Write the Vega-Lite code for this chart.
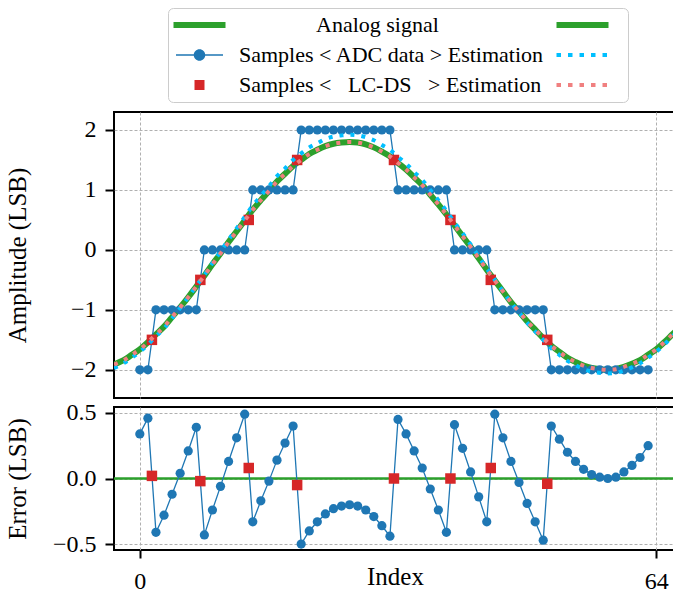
{
  "$schema": "https://vega.github.io/schema/vega-lite/v6.json",
  "padding": {"left": 3, "top": 6, "right": 0, "bottom": 0},
  "bounds": "flush",
  "spacing": 9,
  "datasets": {
    "lines": [
      {"series":"Analog signal","x":-3.2,"y":-1.91},{"series":"Analog signal","x":-3,"y":-1.90},{"series":"Analog signal","x":-2,"y":-1.84},{"series":"Analog signal","x":-1,"y":-1.75},
      {"series":"Analog signal","x":0,"y":-1.66},{"series":"Analog signal","x":1,"y":-1.54},{"series":"Analog signal","x":2,"y":-1.41},{"series":"Analog signal","x":3,"y":-1.28},
      {"series":"Analog signal","x":4,"y":-1.12},{"series":"Analog signal","x":5,"y":-0.96},{"series":"Analog signal","x":6,"y":-0.79},{"series":"Analog signal","x":7,"y":-0.61},
      {"series":"Analog signal","x":8,"y":-0.43},{"series":"Analog signal","x":9,"y":-0.24},{"series":"Analog signal","x":10,"y":-0.06},{"series":"Analog signal","x":11,"y":0.13},
      {"series":"Analog signal","x":12,"y":0.31},{"series":"Analog signal","x":13,"y":0.49},{"series":"Analog signal","x":14,"y":0.67},{"series":"Analog signal","x":15,"y":0.83},
      {"series":"Analog signal","x":16,"y":0.98},{"series":"Analog signal","x":17,"y":1.14},{"series":"Analog signal","x":18,"y":1.27},{"series":"Analog signal","x":19,"y":1.40},
      {"series":"Analog signal","x":20,"y":1.50},{"series":"Analog signal","x":21,"y":1.60},{"series":"Analog signal","x":22,"y":1.67},{"series":"Analog signal","x":23,"y":1.73},
      {"series":"Analog signal","x":24,"y":1.77},{"series":"Analog signal","x":25,"y":1.79},{"series":"Analog signal","x":26,"y":1.80},{"series":"Analog signal","x":27,"y":1.79},
      {"series":"Analog signal","x":28,"y":1.76},{"series":"Analog signal","x":29,"y":1.71},{"series":"Analog signal","x":30,"y":1.64},{"series":"Analog signal","x":31,"y":1.56},
      {"series":"Analog signal","x":32,"y":1.45},{"series":"Analog signal","x":33,"y":1.34},{"series":"Analog signal","x":34,"y":1.21},{"series":"Analog signal","x":35,"y":1.08},
      {"series":"Analog signal","x":36,"y":0.92},{"series":"Analog signal","x":37,"y":0.76},{"series":"Analog signal","x":38,"y":0.59},{"series":"Analog signal","x":39,"y":0.41},
      {"series":"Analog signal","x":40,"y":0.23},{"series":"Analog signal","x":41,"y":0.05},{"series":"Analog signal","x":42,"y":-0.14},{"series":"Analog signal","x":43,"y":-0.33},
      {"series":"Analog signal","x":44,"y":-0.51},{"series":"Analog signal","x":45,"y":-0.69},{"series":"Analog signal","x":46,"y":-0.87},{"series":"Analog signal","x":47,"y":-1.03},
      {"series":"Analog signal","x":48,"y":-1.19},{"series":"Analog signal","x":49,"y":-1.33},{"series":"Analog signal","x":50,"y":-1.47},{"series":"Analog signal","x":51,"y":-1.60},
      {"series":"Analog signal","x":52,"y":-1.70},{"series":"Analog signal","x":53,"y":-1.80},{"series":"Analog signal","x":54,"y":-1.87},{"series":"Analog signal","x":55,"y":-1.93},
      {"series":"Analog signal","x":56,"y":-1.97},{"series":"Analog signal","x":57,"y":-1.99},{"series":"Analog signal","x":58,"y":-2.00},{"series":"Analog signal","x":59,"y":-1.99},
      {"series":"Analog signal","x":60,"y":-1.95},{"series":"Analog signal","x":61,"y":-1.90},{"series":"Analog signal","x":62,"y":-1.84},{"series":"Analog signal","x":63,"y":-1.75},
      {"series":"Analog signal","x":64,"y":-1.66},{"series":"Analog signal","x":65,"y":-1.54},{"series":"Analog signal","x":66,"y":-1.41},{"series":"Analog signal","x":67,"y":-1.28},
      {"series":"Analog signal","x":67.2,"y":-1.25},

      {"series":"ADC data estimation","x":-3.2,"y":-1.97},{"series":"ADC data estimation","x":-3,"y":-1.96},{"series":"ADC data estimation","x":-2,"y":-1.89},{"series":"ADC data estimation","x":-1,"y":-1.80},
      {"series":"ADC data estimation","x":0,"y":-1.70},{"series":"ADC data estimation","x":1,"y":-1.58},{"series":"ADC data estimation","x":2,"y":-1.44},{"series":"ADC data estimation","x":3,"y":-1.31},
      {"series":"ADC data estimation","x":4,"y":-1.14},{"series":"ADC data estimation","x":5,"y":-0.97},{"series":"ADC data estimation","x":6,"y":-0.79},{"series":"ADC data estimation","x":7,"y":-0.60},
      {"series":"ADC data estimation","x":8,"y":-0.42},{"series":"ADC data estimation","x":9,"y":-0.22},{"series":"ADC data estimation","x":10,"y":-0.03},{"series":"ADC data estimation","x":11,"y":0.17},
      {"series":"ADC data estimation","x":12,"y":0.36},{"series":"ADC data estimation","x":13,"y":0.55},{"series":"ADC data estimation","x":14,"y":0.74},{"series":"ADC data estimation","x":15,"y":0.90},
      {"series":"ADC data estimation","x":16,"y":1.06},{"series":"ADC data estimation","x":17,"y":1.23},{"series":"ADC data estimation","x":18,"y":1.36},{"series":"ADC data estimation","x":19,"y":1.50},
      {"series":"ADC data estimation","x":20,"y":1.61},{"series":"ADC data estimation","x":21,"y":1.71},{"series":"ADC data estimation","x":22,"y":1.78},{"series":"ADC data estimation","x":23,"y":1.85},
      {"series":"ADC data estimation","x":24,"y":1.89},{"series":"ADC data estimation","x":25,"y":1.91},{"series":"ADC data estimation","x":26,"y":1.92},{"series":"ADC data estimation","x":27,"y":1.91},
      {"series":"ADC data estimation","x":28,"y":1.88},{"series":"ADC data estimation","x":29,"y":1.83},{"series":"ADC data estimation","x":30,"y":1.75},{"series":"ADC data estimation","x":31,"y":1.67},
      {"series":"ADC data estimation","x":32,"y":1.55},{"series":"ADC data estimation","x":33,"y":1.44},{"series":"ADC data estimation","x":34,"y":1.30},{"series":"ADC data estimation","x":35,"y":1.17},
      {"series":"ADC data estimation","x":36,"y":1.00},{"series":"ADC data estimation","x":37,"y":0.83},{"series":"ADC data estimation","x":38,"y":0.65},{"series":"ADC data estimation","x":39,"y":0.46},
      {"series":"ADC data estimation","x":40,"y":0.28},{"series":"ADC data estimation","x":41,"y":0.09},{"series":"ADC data estimation","x":42,"y":-0.11},{"series":"ADC data estimation","x":43,"y":-0.31},
      {"series":"ADC data estimation","x":44,"y":-0.50},{"series":"ADC data estimation","x":45,"y":-0.69},{"series":"ADC data estimation","x":46,"y":-0.88},{"series":"ADC data estimation","x":47,"y":-1.04},
      {"series":"ADC data estimation","x":48,"y":-1.21},{"series":"ADC data estimation","x":49,"y":-1.36},{"series":"ADC data estimation","x":50,"y":-1.50},{"series":"ADC data estimation","x":51,"y":-1.64},
      {"series":"ADC data estimation","x":52,"y":-1.75},{"series":"ADC data estimation","x":53,"y":-1.85},{"series":"ADC data estimation","x":54,"y":-1.92},{"series":"ADC data estimation","x":55,"y":-1.99},
      {"series":"ADC data estimation","x":56,"y":-2.03},{"series":"ADC data estimation","x":57,"y":-2.05},{"series":"ADC data estimation","x":58,"y":-2.06},{"series":"ADC data estimation","x":59,"y":-2.05},
      {"series":"ADC data estimation","x":60,"y":-2.01},{"series":"ADC data estimation","x":61,"y":-1.96},{"series":"ADC data estimation","x":62,"y":-1.89},{"series":"ADC data estimation","x":63,"y":-1.80},
      {"series":"ADC data estimation","x":64,"y":-1.70},{"series":"ADC data estimation","x":65,"y":-1.58},{"series":"ADC data estimation","x":66,"y":-1.44},{"series":"ADC data estimation","x":67,"y":-1.31},
      {"series":"ADC data estimation","x":67.2,"y":-1.27},

      {"series":"LC-DS estimation","x":-3.2,"y":-1.91},{"series":"LC-DS estimation","x":-3,"y":-1.90},{"series":"LC-DS estimation","x":-2,"y":-1.84},{"series":"LC-DS estimation","x":-1,"y":-1.75},
      {"series":"LC-DS estimation","x":0,"y":-1.66},{"series":"LC-DS estimation","x":1,"y":-1.54},{"series":"LC-DS estimation","x":2,"y":-1.41},{"series":"LC-DS estimation","x":3,"y":-1.28},
      {"series":"LC-DS estimation","x":4,"y":-1.12},{"series":"LC-DS estimation","x":5,"y":-0.96},{"series":"LC-DS estimation","x":6,"y":-0.79},{"series":"LC-DS estimation","x":7,"y":-0.61},
      {"series":"LC-DS estimation","x":8,"y":-0.43},{"series":"LC-DS estimation","x":9,"y":-0.24},{"series":"LC-DS estimation","x":10,"y":-0.06},{"series":"LC-DS estimation","x":11,"y":0.13},
      {"series":"LC-DS estimation","x":12,"y":0.31},{"series":"LC-DS estimation","x":13,"y":0.49},{"series":"LC-DS estimation","x":14,"y":0.67},{"series":"LC-DS estimation","x":15,"y":0.83},
      {"series":"LC-DS estimation","x":16,"y":0.98},{"series":"LC-DS estimation","x":17,"y":1.14},{"series":"LC-DS estimation","x":18,"y":1.27},{"series":"LC-DS estimation","x":19,"y":1.40},
      {"series":"LC-DS estimation","x":20,"y":1.50},{"series":"LC-DS estimation","x":21,"y":1.60},{"series":"LC-DS estimation","x":22,"y":1.67},{"series":"LC-DS estimation","x":23,"y":1.73},
      {"series":"LC-DS estimation","x":24,"y":1.77},{"series":"LC-DS estimation","x":25,"y":1.79},{"series":"LC-DS estimation","x":26,"y":1.80},{"series":"LC-DS estimation","x":27,"y":1.79},
      {"series":"LC-DS estimation","x":28,"y":1.76},{"series":"LC-DS estimation","x":29,"y":1.71},{"series":"LC-DS estimation","x":30,"y":1.64},{"series":"LC-DS estimation","x":31,"y":1.56},
      {"series":"LC-DS estimation","x":32,"y":1.45},{"series":"LC-DS estimation","x":33,"y":1.34},{"series":"LC-DS estimation","x":34,"y":1.21},{"series":"LC-DS estimation","x":35,"y":1.08},
      {"series":"LC-DS estimation","x":36,"y":0.92},{"series":"LC-DS estimation","x":37,"y":0.76},{"series":"LC-DS estimation","x":38,"y":0.59},{"series":"LC-DS estimation","x":39,"y":0.41},
      {"series":"LC-DS estimation","x":40,"y":0.23},{"series":"LC-DS estimation","x":41,"y":0.05},{"series":"LC-DS estimation","x":42,"y":-0.14},{"series":"LC-DS estimation","x":43,"y":-0.33},
      {"series":"LC-DS estimation","x":44,"y":-0.51},{"series":"LC-DS estimation","x":45,"y":-0.69},{"series":"LC-DS estimation","x":46,"y":-0.87},{"series":"LC-DS estimation","x":47,"y":-1.03},
      {"series":"LC-DS estimation","x":48,"y":-1.19},{"series":"LC-DS estimation","x":49,"y":-1.33},{"series":"LC-DS estimation","x":50,"y":-1.47},{"series":"LC-DS estimation","x":51,"y":-1.60},
      {"series":"LC-DS estimation","x":52,"y":-1.70},{"series":"LC-DS estimation","x":53,"y":-1.80},{"series":"LC-DS estimation","x":54,"y":-1.87},{"series":"LC-DS estimation","x":55,"y":-1.93},
      {"series":"LC-DS estimation","x":56,"y":-1.97},{"series":"LC-DS estimation","x":57,"y":-1.99},{"series":"LC-DS estimation","x":58,"y":-2.00},{"series":"LC-DS estimation","x":59,"y":-1.99},
      {"series":"LC-DS estimation","x":60,"y":-1.95},{"series":"LC-DS estimation","x":61,"y":-1.90},{"series":"LC-DS estimation","x":62,"y":-1.84},{"series":"LC-DS estimation","x":63,"y":-1.75},
      {"series":"LC-DS estimation","x":64,"y":-1.66},{"series":"LC-DS estimation","x":65,"y":-1.54},{"series":"LC-DS estimation","x":66,"y":-1.41},{"series":"LC-DS estimation","x":67,"y":-1.28},
      {"series":"LC-DS estimation","x":67.2,"y":-1.25}
    ],
    "adc": [
      {"series":"ADC data samples","index":0,"sample":-2,"error":0.34},{"series":"ADC data samples","index":1,"sample":-2,"error":0.46},
      {"series":"ADC data samples","index":2,"sample":-1,"error":-0.41},{"series":"ADC data samples","index":3,"sample":-1,"error":-0.28},
      {"series":"ADC data samples","index":4,"sample":-1,"error":-0.12},{"series":"ADC data samples","index":5,"sample":-1,"error":0.04},
      {"series":"ADC data samples","index":6,"sample":-1,"error":0.21},{"series":"ADC data samples","index":7,"sample":-1,"error":0.39},
      {"series":"ADC data samples","index":8,"sample":0,"error":-0.43},{"series":"ADC data samples","index":9,"sample":0,"error":-0.24},
      {"series":"ADC data samples","index":10,"sample":0,"error":-0.06},{"series":"ADC data samples","index":11,"sample":0,"error":0.13},
      {"series":"ADC data samples","index":12,"sample":0,"error":0.31},{"series":"ADC data samples","index":13,"sample":0,"error":0.49},
      {"series":"ADC data samples","index":14,"sample":1,"error":-0.33},{"series":"ADC data samples","index":15,"sample":1,"error":-0.17},
      {"series":"ADC data samples","index":16,"sample":1,"error":-0.02},{"series":"ADC data samples","index":17,"sample":1,"error":0.14},
      {"series":"ADC data samples","index":18,"sample":1,"error":0.27},{"series":"ADC data samples","index":19,"sample":1,"error":0.40},
      {"series":"ADC data samples","index":20,"sample":2,"error":-0.50},{"series":"ADC data samples","index":21,"sample":2,"error":-0.40},
      {"series":"ADC data samples","index":22,"sample":2,"error":-0.33},{"series":"ADC data samples","index":23,"sample":2,"error":-0.27},
      {"series":"ADC data samples","index":24,"sample":2,"error":-0.23},{"series":"ADC data samples","index":25,"sample":2,"error":-0.21},
      {"series":"ADC data samples","index":26,"sample":2,"error":-0.20},{"series":"ADC data samples","index":27,"sample":2,"error":-0.21},
      {"series":"ADC data samples","index":28,"sample":2,"error":-0.24},{"series":"ADC data samples","index":29,"sample":2,"error":-0.29},
      {"series":"ADC data samples","index":30,"sample":2,"error":-0.36},{"series":"ADC data samples","index":31,"sample":2,"error":-0.44},
      {"series":"ADC data samples","index":32,"sample":1,"error":0.45},{"series":"ADC data samples","index":33,"sample":1,"error":0.34},
      {"series":"ADC data samples","index":34,"sample":1,"error":0.21},{"series":"ADC data samples","index":35,"sample":1,"error":0.08},
      {"series":"ADC data samples","index":36,"sample":1,"error":-0.08},{"series":"ADC data samples","index":37,"sample":1,"error":-0.24},
      {"series":"ADC data samples","index":38,"sample":1,"error":-0.41},{"series":"ADC data samples","index":39,"sample":0,"error":0.41},
      {"series":"ADC data samples","index":40,"sample":0,"error":0.23},{"series":"ADC data samples","index":41,"sample":0,"error":0.05},
      {"series":"ADC data samples","index":42,"sample":0,"error":-0.14},{"series":"ADC data samples","index":43,"sample":0,"error":-0.33},
      {"series":"ADC data samples","index":44,"sample":-1,"error":0.49},{"series":"ADC data samples","index":45,"sample":-1,"error":0.31},
      {"series":"ADC data samples","index":46,"sample":-1,"error":0.13},{"series":"ADC data samples","index":47,"sample":-1,"error":-0.03},
      {"series":"ADC data samples","index":48,"sample":-1,"error":-0.19},{"series":"ADC data samples","index":49,"sample":-1,"error":-0.33},
      {"series":"ADC data samples","index":50,"sample":-1,"error":-0.47},{"series":"ADC data samples","index":51,"sample":-2,"error":0.40},
      {"series":"ADC data samples","index":52,"sample":-2,"error":0.30},{"series":"ADC data samples","index":53,"sample":-2,"error":0.20},
      {"series":"ADC data samples","index":54,"sample":-2,"error":0.13},{"series":"ADC data samples","index":55,"sample":-2,"error":0.07},
      {"series":"ADC data samples","index":56,"sample":-2,"error":0.03},{"series":"ADC data samples","index":57,"sample":-2,"error":0.01},
      {"series":"ADC data samples","index":58,"sample":-2,"error":0.00},{"series":"ADC data samples","index":59,"sample":-2,"error":0.01},
      {"series":"ADC data samples","index":60,"sample":-2,"error":0.05},{"series":"ADC data samples","index":61,"sample":-2,"error":0.10},
      {"series":"ADC data samples","index":62,"sample":-2,"error":0.16},{"series":"ADC data samples","index":63,"sample":-2,"error":0.25}
    ],
    "lcds": [
      {"series":"LC-DS samples","x":1.5,"sample":-1.5,"error":0.02},
      {"series":"LC-DS samples","x":7.5,"sample":-0.5,"error":-0.02},
      {"series":"LC-DS samples","x":13.5,"sample":0.5,"error":0.08},
      {"series":"LC-DS samples","x":19.5,"sample":1.5,"error":-0.05},
      {"series":"LC-DS samples","x":31.5,"sample":1.5,"error":0.0},
      {"series":"LC-DS samples","x":38.5,"sample":0.5,"error":0.0},
      {"series":"LC-DS samples","x":43.5,"sample":-0.5,"error":0.08},
      {"series":"LC-DS samples","x":50.5,"sample":-1.5,"error":-0.04}
    ],
    "analogError": [
      {"series":"Analog signal","error":0}
    ]
  },
  "resolve": {"scale": {"color": "independent", "shape": "independent"}, "legend": {"color": "independent", "shape": "independent"}},
  "vconcat": [
    {
      "width": 568,
      "height": 286,
      "layer": [
        {
          "data": {"name": "lcds"},
          "mark": {"type": "point", "filled": true, "size": 0, "opacity": 1},
          "encoding": {
            "x": {"field": "x", "type": "quantitative",
                  "scale": {"domain": [-3.2, 67.2], "nice": false, "zero": false},
                  "axis": {"values": [0, 64], "labels": false, "ticks": false, "domain": false, "grid": true, "title": null}},
            "y": {"field": "sample", "type": "quantitative",
                  "scale": {"domain": [-2.47, 2.3], "nice": false, "zero": false},
                  "axis": {"values": [-2, -1, 0, 1, 2], "format": "d", "title": "Amplitude (LSB)", "titleX": -89, "titleBaseline": "alphabetic",
                           "tickSize": 9, "labelPadding": 9, "grid": true}},
            "color": {
              "field": "series", "type": "nominal",
              "scale": {
                "domain": ["Analog signal", "ADC data samples", "LC-DS samples", "Analog signal (repeated)", "ADC data estimation", "LC-DS estimation"],
                "range": ["#2ca02c", "#1f77b4", "#d62728", "#2ca02c", "#00bfff", "#f08080"]
              },
              "legend": {
                "orient": "none", "legendX": 54, "legendY": -104, "title": null,
                "columns": 2, "columnPadding": 11, "rowPadding": 8, "padding": 6,
                "fillColor": "white", "strokeColor": "#cccccc", "cornerRadius": 5,
                "symbolSize": 100, "symbolOffset": 14.5, "labelOffset": 28.5, "symbolStrokeWidth": 0, "symbolOpacity": 1,
                "labelFont": "Liberation Serif", "labelFontSize": 22, "labelColor": "black", "labelLimit": 600,
                "labelExpr": "datum.value === 'Analog signal' ? '\u200b\u00a0\u00a0\u00a0\u00a0\u00a0\u00a0\u00a0\u00a0\u00a0\u00a0\u00a0\u00a0\u00a0\u00a0Analog signal' : datum.value === 'ADC data samples' ? 'Samples < ADC data > Estimation' : datum.value === 'LC-DS samples' ? 'Samples <\u00a0\u00a0\u00a0LC-DS\u00a0\u00a0\u00a0> Estimation' : ''"
              }
            },
            "shape": {
              "field": "series", "type": "nominal",
              "scale": {
                "domain": ["Analog signal", "ADC data samples", "LC-DS samples", "Analog signal (repeated)", "ADC data estimation", "LC-DS estimation"],
                "range": [
                  "M-5.2,-0.6H5.2V0.6H-5.2Z",
                  "M-4.7,-0.15H4.7V0.15H-4.7Z M1.15,0A1.15,1.15,0,1,1,-1.15,0A1.15,1.15,0,1,1,1.15,0Z",
                  "M-1,-1H1V1H-1Z",
                  "M-5.2,-0.6H5.2V0.6H-5.2Z",
                  "M-5.2,-0.4h0.9v0.8h-0.9Z M-2.9,-0.4h0.9v0.8h-0.9Z M-0.6,-0.4h0.9v0.8h-0.9Z M1.7,-0.4h0.9v0.8h-0.9Z M4,-0.4h0.9v0.8h-0.9Z",
                  "M-5.2,-0.4h0.9v0.8h-0.9Z M-2.9,-0.4h0.9v0.8h-0.9Z M-0.6,-0.4h0.9v0.8h-0.9Z M1.7,-0.4h0.9v0.8h-0.9Z M4,-0.4h0.9v0.8h-0.9Z"
                ]
              },
              "legend": {
                "orient": "none", "legendX": 54, "legendY": -104, "title": null,
                "columns": 2, "columnPadding": 11, "rowPadding": 8, "padding": 6,
                "fillColor": "white", "strokeColor": "#cccccc", "cornerRadius": 5,
                "symbolSize": 100, "symbolOffset": 14.5, "labelOffset": 28.5, "symbolStrokeWidth": 0, "symbolOpacity": 1,
                "labelFont": "Liberation Serif", "labelFontSize": 22, "labelColor": "black", "labelLimit": 600,
                "labelExpr": "datum.value === 'Analog signal' ? '\u200b\u00a0\u00a0\u00a0\u00a0\u00a0\u00a0\u00a0\u00a0\u00a0\u00a0\u00a0\u00a0\u00a0\u00a0Analog signal' : datum.value === 'ADC data samples' ? 'Samples < ADC data > Estimation' : datum.value === 'LC-DS samples' ? 'Samples <\u00a0\u00a0\u00a0LC-DS\u00a0\u00a0\u00a0> Estimation' : ''"
              }
            }
          }
        },
        {
          "data": {"name": "lines"},
          "transform": [{"filter": "datum.series === 'Analog signal'"}],
          "mark": {"type": "line", "color": "#2ca02c", "strokeWidth": 6, "interpolate": "monotone", "clip": true},
          "encoding": {
            "x": {"field": "x", "type": "quantitative"},
            "y": {"field": "y", "type": "quantitative"}
          }
        },
        {
          "data": {"name": "adc"},
          "mark": {"type": "line", "color": "#1f77b4", "strokeWidth": 1.3},
          "encoding": {
            "x": {"field": "index", "type": "quantitative"},
            "y": {"field": "sample", "type": "quantitative"}
          }
        },
        {
          "data": {"name": "adc"},
          "mark": {"type": "point", "shape": "circle", "filled": true, "size": 85, "opacity": 1, "color": "#1f77b4"},
          "encoding": {
            "x": {"field": "index", "type": "quantitative"},
            "y": {"field": "sample", "type": "quantitative"}
          }
        },
        {
          "data": {"name": "lcds"},
          "mark": {"type": "point", "shape": "square", "filled": true, "size": 110, "opacity": 1, "color": "#d62728"},
          "encoding": {
            "x": {"field": "x", "type": "quantitative"},
            "y": {"field": "sample", "type": "quantitative"}
          }
        },
        {
          "data": {"name": "lines"},
          "transform": [{"filter": "datum.series === 'ADC data estimation'"}],
          "mark": {"type": "line", "color": "#00bfff", "strokeWidth": 4, "strokeDash": [4, 7], "interpolate": "monotone", "clip": true},
          "encoding": {
            "x": {"field": "x", "type": "quantitative"},
            "y": {"field": "y", "type": "quantitative"}
          }
        },
        {
          "data": {"name": "lines"},
          "transform": [{"filter": "datum.series === 'LC-DS estimation'"}],
          "mark": {"type": "line", "color": "#f08080", "strokeWidth": 4, "strokeDash": [4, 7], "interpolate": "monotone", "clip": true},
          "encoding": {
            "x": {"field": "x", "type": "quantitative"},
            "y": {"field": "y", "type": "quantitative"}
          }
        }
      ]
    },
    {
      "width": 568,
      "height": 143,
      "layer": [
        {
          "data": {"name": "analogError"},
          "mark": {"type": "rule", "color": "#2ca02c", "strokeWidth": 2.5},
          "encoding": {
            "y": {"field": "error", "type": "quantitative",
                  "scale": {"domain": [-0.545, 0.545], "nice": false, "zero": false},
                  "axis": {"values": [-0.5, 0, 0.5], "format": ".1f", "title": "Error (LSB)", "titleX": -89, "titleBaseline": "alphabetic",
                           "tickSize": 9, "labelPadding": 9, "grid": true}}
          }
        },
        {
          "data": {"name": "adc"},
          "mark": {"type": "line", "color": "#1f77b4", "strokeWidth": 1.3},
          "encoding": {
            "x": {"field": "index", "type": "quantitative",
                  "scale": {"domain": [-3.2, 67.2], "nice": false, "zero": false},
                  "axis": {"values": [0, 64], "format": "d", "title": "Index", "titleX": 281, "titleY": 34, "titleBaseline": "alphabetic",
                           "tickSize": 8, "labelPadding": 11, "labelFlush": false, "grid": true}},
            "y": {"field": "error", "type": "quantitative"}
          }
        },
        {
          "data": {"name": "adc"},
          "mark": {"type": "point", "shape": "circle", "filled": true, "size": 85, "opacity": 1, "color": "#1f77b4"},
          "encoding": {
            "x": {"field": "index", "type": "quantitative"},
            "y": {"field": "error", "type": "quantitative"}
          }
        },
        {
          "data": {"name": "lcds"},
          "mark": {"type": "point", "shape": "square", "filled": true, "size": 110, "opacity": 1, "color": "#d62728"},
          "encoding": {
            "x": {"field": "x", "type": "quantitative"},
            "y": {"field": "error", "type": "quantitative"}
          }
        }
      ]
    }
  ],
  "config": {
    "font": "Liberation Serif",
    "view": {"stroke": "black", "strokeWidth": 2},
    "axis": {
      "labelFont": "Liberation Serif", "labelFontSize": 24, "labelColor": "black",
      "titleFont": "Liberation Serif", "titleFontSize": 25, "titleFontWeight": "normal", "titleColor": "black",
      "tickColor": "black", "tickWidth": 2, "domain": false,
      "gridColor": "#b0b0b0", "gridDash": [3, 2], "gridWidth": 1
    }
  }
}
